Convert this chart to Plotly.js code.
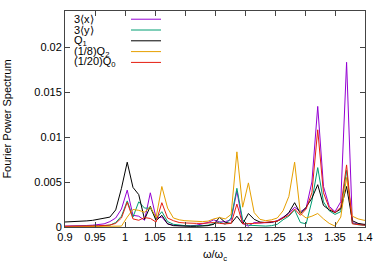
<!DOCTYPE html>
<html>
<head>
<meta charset="utf-8">
<script src="https://cdn.plot.ly/plotly-3.0.1.min.js"></script>
<style>html,body{margin:0;padding:0;background:#fff;}#chart{width:390px;height:273px;}</style>
</head>
<body>
<div id="chart"></div>
<script>
// sample frequencies omega/omega_c
const freq = [0.8979,0.9075,0.9171,0.9267,0.9364,0.9460,0.9556,0.9652,0.9748,0.9845,0.9941,
  1.0037,1.0133,1.0229,1.0326,1.0422,1.0518,1.0614,1.0710,1.0807,1.0903,1.0999,1.1095,1.1191,
  1.1288,1.1384,1.1480,1.1576,1.1672,1.1769,1.1865,1.1961,1.2057,1.2153,1.2250,1.2346,1.2442,
  1.2538,1.2634,1.2731,1.2827,1.2923,1.3019,1.3115,1.3212,1.3308,1.3404,1.3500,1.3596,1.3693,
  1.3789,1.3885,1.3981,1.4077];

const seriesNames = ['3⟨x⟩', '3⟨y⟩', 'Q<sub>1</sub>', '(1/8)Q<sub>2</sub>', '(1/20)Q<sub>0</sub>'];

const x3 = [0.0001,0.0001,0.00012,0.00014,0.00017,0.0002,0.00025,0.00035,0.0006,0.001,0.002,
  0.0041,0.0013,0.0012,0.00075,0.0038,0.001,0.0011,0.00035,0.0002,0.00015,0.00012,0.00012,0.0002,
  0.00035,0.0005,0.0008,0.00055,0.0006,0.0008,0.004,0.0004,0.0001,0.0005,0.00045,0.00045,0.0005,
  0.0007,0.0011,0.0015,0.0022,0.0017,0.0021,0.005,0.0134,0.0045,0.0023,0.0017,0.0028,0.0183,
  0.0005,0.0003,0.00025,0.00025];

const y3 = [0.00005,0.00005,0.00006,0.00007,0.00008,0.0001,0.00012,0.00015,0.0002,0.0005,0.0012,
  0.0029,0.0011,0.0028,0.0021,0.0021,0.0009,0.0017,0.0006,0.0003,0.0002,0.00015,0.00012,0.0001,
  0.00015,0.0002,0.00035,0.00055,0.0003,0.001,0.0043,0.0008,0.0002,0.00015,0.0001,0.0001,0.00015,
  0.0003,0.0008,0.0012,0.0019,0.0005,0.00035,0.0029,0.0066,0.0028,0.0018,0.0014,0.0017,0.0063,
  0.0004,0.00025,0.0002,0.0002];

const q1 = [0.00055,0.00057,0.0006,0.00063,0.00068,0.00074,0.00085,0.00095,0.0011,0.0019,0.0043,
  0.0072,0.0044,0.0036,0.00085,0.0023,0.0007,0.0013,0.00035,0.00015,0.0001,0.00008,0.00008,0.00008,
  0.0001,0.00015,0.0003,0.00107,0.0005,0.0004,0.0012,0.00035,0.0015,0.00085,0.00055,0.0005,0.00055,
  0.00065,0.001,0.0016,0.0027,0.0015,0.0022,0.0032,0.0047,0.0024,0.0019,0.0016,0.002,0.0045,
  0.0007,0.0004,0.0003,0.00025];

const q2 = [0.00002,0.00002,0.00002,0.00002,0.00002,0.00002,0.00002,0.00002,0.00002,0.00002,0.0001,
  0.0011,0.00195,0.00185,0.00165,0.0022,0.00105,0.0045,0.0021,0.001,0.0008,0.0007,0.00065,0.0006,
  0.0006,0.00065,0.0009,0.00105,0.0009,0.0014,0.00835,0.0022,0.0049,0.0016,0.00085,0.0007,0.0008,
  0.001,0.0018,0.0034,0.0072,0.0015,0.001,0.0012,0.0015,0.0009,0.0004,0.0001,0.0011,0.0055,
  0.0012,0.0009,0.00075,0.0007];

const q0 = [0.00008,0.00008,0.00009,0.0001,0.00011,0.00012,0.00014,0.00017,0.00022,0.0004,0.001,
  0.00275,0.0009,0.00075,0.00105,0.00095,0.00055,0.0027,0.001,0.0007,0.0005,0.00045,0.0004,0.0004,
  0.0004,0.00045,0.0005,0.0004,0.00035,0.0004,0.00255,0.00035,0.00035,0.0004,0.00045,0.0005,0.00055,
  0.00065,0.001,0.0013,0.002,0.0013,0.002,0.0038,0.0108,0.0038,0.0021,0.0016,0.0022,0.0069,
  0.00035,0.00025,0.0002,0.0002];

const seriesValues = [x3, y3, q1, q2, q0];
const colors = ['#9400d3', '#009e73', '#000000', '#e69f00', '#e51e10'];

const yTickVals = [0, 0.005, 0.01, 0.015, 0.02];
const xTickVals = [0.9, 0.95, 1, 1.05, 1.1, 1.15, 1.2, 1.25, 1.3, 1.35, 1.4];

const FONT = 'Liberation Sans, Arial, sans-serif';
const FS = 11;

const traces = seriesValues.map((vals, i) => ({
  x: freq, y: vals, type: 'scatter', mode: 'lines', name: seriesNames[i],
  line: {color: colors[i], width: 1}, showlegend: false, hoverinfo: 'skip'
}));

// manual key (gnuplot style: text left, sample line right)
const rowY = [0.962, 0.912, 0.862, 0.812, 0.762];
const annotations = seriesNames.map((t, i) => ({
  xref: 'paper', yref: 'paper', x: 0.022, y: rowY[i], xanchor: 'left', yanchor: 'middle',
  text: t, showarrow: false, font: {family: FONT, size: FS, color: '#000'}
}));
const shapes = seriesNames.map((t, i) => ({
  type: 'line', xref: 'paper', yref: 'paper', x0: 0.22, x1: 0.32, y0: rowY[i], y1: rowY[i],
  line: {color: colors[i], width: 1}
}));

const layout = {
  width: 390, height: 273,
  margin: {l: 65, r: 25, t: 11, b: 46},
  paper_bgcolor: '#fff', plot_bgcolor: '#fff',
  font: {family: FONT, size: FS, color: '#000'},
  showlegend: false,
  xaxis: {
    range: [0.9, 1.4], tickvals: xTickVals, ticks: 'inside', ticklen: 5, tickcolor: '#444',
    showline: true, linecolor: '#444', linewidth: 1, mirror: 'ticks',
    showgrid: false, zeroline: false, automargin: false,
    tickfont: {family: FONT, size: FS, color: '#000'},
    title: {text: 'ω/ω<sub>c</sub>', font: {family: FONT, size: FS, color: '#000'}, standoff: 8}
  },
  yaxis: {
    range: [0, 0.024], tickvals: yTickVals, ticks: 'inside', ticklen: 5, tickcolor: '#444',
    showline: true, linecolor: '#444', linewidth: 1, mirror: 'ticks',
    showgrid: false, zeroline: false, automargin: false,
    tickfont: {family: FONT, size: FS, color: '#000'},
    title: {text: 'Fourier Power Spectrum', font: {family: FONT, size: FS, color: '#000'}, standoff: 20}
  },
  annotations: annotations,
  shapes: shapes
};

Plotly.newPlot('chart', traces, layout, {staticPlot: true, displayModeBar: false});
</script>
</body>
</html>
